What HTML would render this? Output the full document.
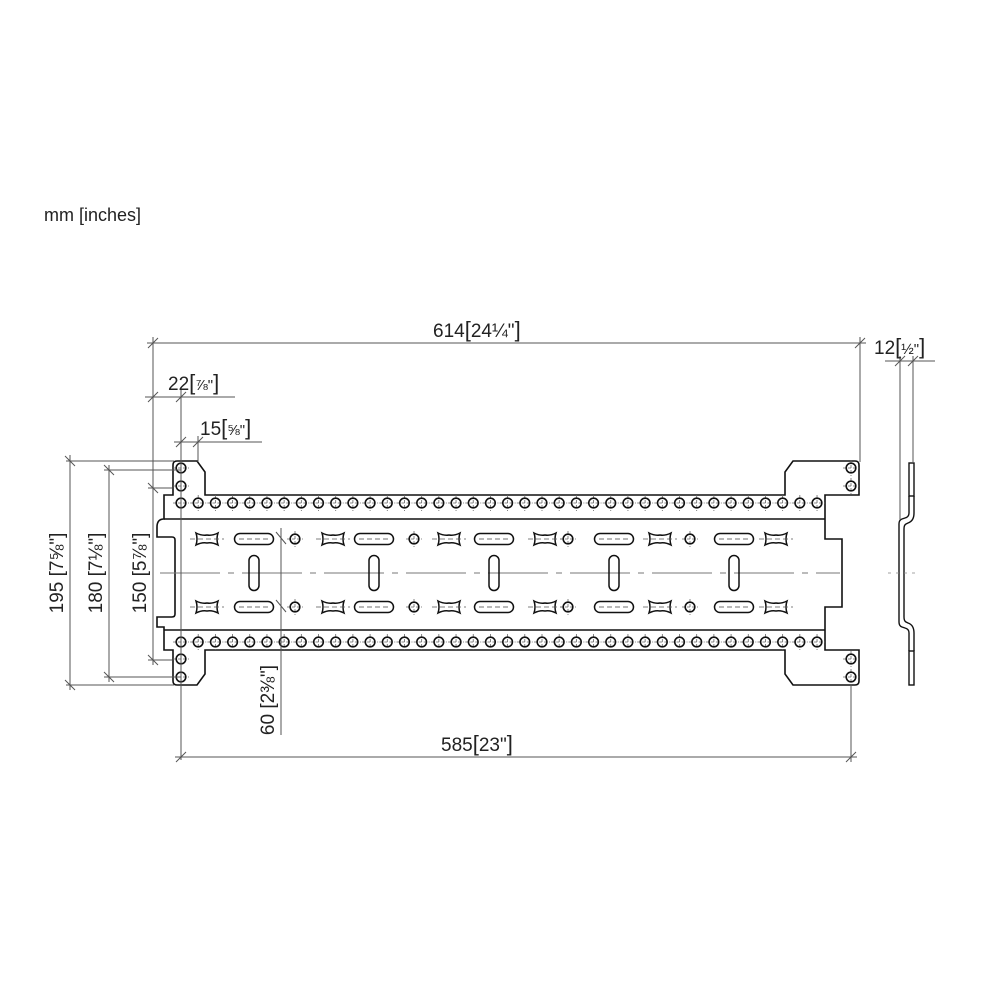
<!DOCTYPE html>
<html><head><meta charset="utf-8"><style>
html,body{margin:0;padding:0;background:#fff;width:985px;height:1000px;overflow:hidden}
svg{display:block}
text{font-family:"Liberation Sans",sans-serif;fill:#222}
</style></head><body>
<svg id="s" width="985" height="1000" viewBox="0 0 985 1000" xmlns="http://www.w3.org/2000/svg">
<defs>
<g id="h"><line x1="-8" y1="0" x2="8" y2="0" stroke="#666" stroke-width="0.8" stroke-dasharray="3 2"/><line x1="0" y1="-8" x2="0" y2="8" stroke="#666" stroke-width="0.8" stroke-dasharray="3 2"/><circle r="4.8" fill="none" stroke="#111" stroke-width="1.6"/></g>
<g id="bone"><path d="M-11,-6 Q-5,-3 0,-4 Q5,-3 11,-6 Q9,0 11,6 Q5,3 0,4 Q-5,3 -11,6 Q-9,0 -11,-6Z" fill="none" stroke="#111" stroke-width="1.5"/><line x1="-17" y1="0" x2="17" y2="0" stroke="#555" stroke-width="0.8" stroke-dasharray="5 3"/></g>
<g id="hs"><rect x="-19.5" y="-5.5" width="39" height="11" rx="5.5" fill="none" stroke="#111" stroke-width="1.5"/><line x1="-15" y1="0" x2="15" y2="0" stroke="#444" stroke-width="0.8" stroke-dasharray="5 3"/></g>
<g id="vs"><rect x="-5" y="-17.5" width="10" height="35" rx="5" fill="none" stroke="#111" stroke-width="1.5"/></g>
</defs>
<text x="44" y="221" font-size="18">mm [inches]</text>

<g fill="none" stroke="#111" stroke-width="1.6">
<path d="M177,461 L197,461 L205,472 L205,495 L785,495 L785,472 L793,461 L855,461 Q859,461 859,465 L859,495 L825,495 L825,539 L842,539 L842,607 L825,607 L825,650 L859,650 L859,681 Q859,685 855,685 L793,685 L785,674 L785,650 L205,650 L205,674 L197,685 L177,685 Q173,685 173,681 L173,650 L164,650 L164,627 L157,627 L157,617 L172,617 Q175,617 175,614 L175,540 Q175,537 172,537 L157,537 L157,527 Q157,519 164,519 L164,495 L173,495 L173,465 Q173,461 177,461Z"/>
<line x1="164" y1="519" x2="825" y2="519"/>
<line x1="164" y1="630" x2="825" y2="630"/>
</g>
<line x1="160" y1="573" x2="840" y2="573" stroke="#777" stroke-width="1" stroke-dasharray="60 8 6 8"/>
<g id="holes"></g>

<g fill="none" stroke="#111" stroke-width="1.4">
<rect x="909" y="463" width="5" height="33"/>
<rect x="909" y="651" width="5" height="34"/>
<path d="M909,496 L909,513 Q909,517 905,518 L902,519 Q899,520 899,524 L899,622 Q899,626 902,627 L905,628 Q909,629 909,633 L909,651"/>
<path d="M914,496 L914,513 Q914,521 908,523 L906,524 Q904,525 904,529 L904,617 Q904,621 906,622 L908,623 Q914,625 914,633 L914,651"/>
</g>
<line x1="888" y1="573" x2="918" y2="573" stroke="#888" stroke-width="0.8" stroke-dasharray="3 5"/>

<g stroke="#555" stroke-width="1" fill="none">
<line x1="153" y1="337" x2="153" y2="520"/>
<line x1="860" y1="337" x2="860" y2="462"/>
<line x1="147" y1="343" x2="866" y2="343"/>
<line x1="148" y1="348" x2="158" y2="338"/><line x1="855" y1="348" x2="865" y2="338"/>
<line x1="145" y1="397" x2="235" y2="397"/>
<line x1="181" y1="390" x2="181" y2="760"/>
<line x1="148" y1="402" x2="158" y2="392"/><line x1="176" y1="402" x2="186" y2="392"/>
<line x1="174" y1="442" x2="262" y2="442"/>
<line x1="198" y1="436" x2="198" y2="462"/>
<line x1="176" y1="447" x2="186" y2="437"/><line x1="193" y1="447" x2="203" y2="437"/>
<line x1="66" y1="461" x2="174" y2="461"/><line x1="66" y1="685" x2="174" y2="685"/>
<line x1="70" y1="455" x2="70" y2="690"/>
<line x1="65" y1="456" x2="75" y2="466"/><line x1="65" y1="680" x2="75" y2="690"/>
<line x1="104" y1="470" x2="181" y2="470"/><line x1="104" y1="677" x2="181" y2="677"/>
<line x1="109" y1="465" x2="109" y2="682"/>
<line x1="104" y1="465" x2="114" y2="475"/><line x1="104" y1="672" x2="114" y2="682"/>
<line x1="148" y1="488" x2="172" y2="488"/><line x1="148" y1="660" x2="172" y2="660"/>
<line x1="153" y1="483" x2="153" y2="665"/>
<line x1="148" y1="483" x2="158" y2="493"/><line x1="148" y1="655" x2="158" y2="665"/>
<line x1="281" y1="528" x2="281" y2="735"/>
<line x1="276" y1="532" x2="286" y2="544"/><line x1="276" y1="600" x2="286" y2="612"/>
<line x1="851" y1="685" x2="851" y2="762"/>
<line x1="175" y1="757" x2="857" y2="757"/>
<line x1="176" y1="762" x2="186" y2="752"/><line x1="846" y1="762" x2="856" y2="752"/>
<line x1="900" y1="356" x2="900" y2="520"/>
<line x1="913" y1="356" x2="913" y2="463"/>
<line x1="885" y1="361" x2="935" y2="361"/>
<line x1="895" y1="366" x2="905" y2="356"/><line x1="908" y1="366" x2="918" y2="356"/>
</g>

<g font-size="19">
<text x="433" y="337">614<tspan font-size="22">[</tspan>24¼"<tspan font-size="22">]</tspan></text>
<text x="168" y="390">22<tspan font-size="22">[</tspan><tspan font-size="15">⅞"</tspan><tspan font-size="22">]</tspan></text>
<text x="200" y="435">15<tspan font-size="22">[</tspan><tspan font-size="15">⅝"</tspan><tspan font-size="22">]</tspan></text>
<text x="874" y="354">12<tspan font-size="22">[</tspan><tspan font-size="15">½"</tspan><tspan font-size="22">]</tspan></text>
<text x="441" y="751">585<tspan font-size="22">[</tspan>23"<tspan font-size="22">]</tspan></text>
<g transform="translate(63,573) rotate(-90)"><text x="0" y="0" text-anchor="middle">195 [7⅝"]</text></g>
<g transform="translate(102,573) rotate(-90)"><text x="0" y="0" text-anchor="middle">180 [7⅛"]</text></g>
<g transform="translate(146,573) rotate(-90)"><text x="0" y="0" text-anchor="middle">150 [5⅞"]</text></g>
<g transform="translate(274,700) rotate(-90)"><text x="0" y="0" text-anchor="middle">60 [2⅜"]</text></g>
</g>
</svg>
<script>
var g=document.getElementById('holes'),ns='http://www.w3.org/2000/svg';
function u(id,x,y){var e=document.createElementNS(ns,'use');e.setAttribute('href','#'+id);e.setAttribute('x',x);e.setAttribute('y',y);g.appendChild(e);}
for(var i=0;i<38;i++){var x=181+i*17.19;u('h',x,503);u('h',x,642);}
[468,486,659,677].forEach(function(y){u('h',181,y);u('h',851,y);});
[254,374,494,614,734].forEach(function(x){u('vs',x,573);u('hs',x,539);u('hs',x,607);});
[207,333,449,545,660,776].forEach(function(x){u('bone',x,539);u('bone',x,607);});
[295,414,568,690].forEach(function(x){u('h',x,539);u('h',x,607);});
</script>
</body></html>
